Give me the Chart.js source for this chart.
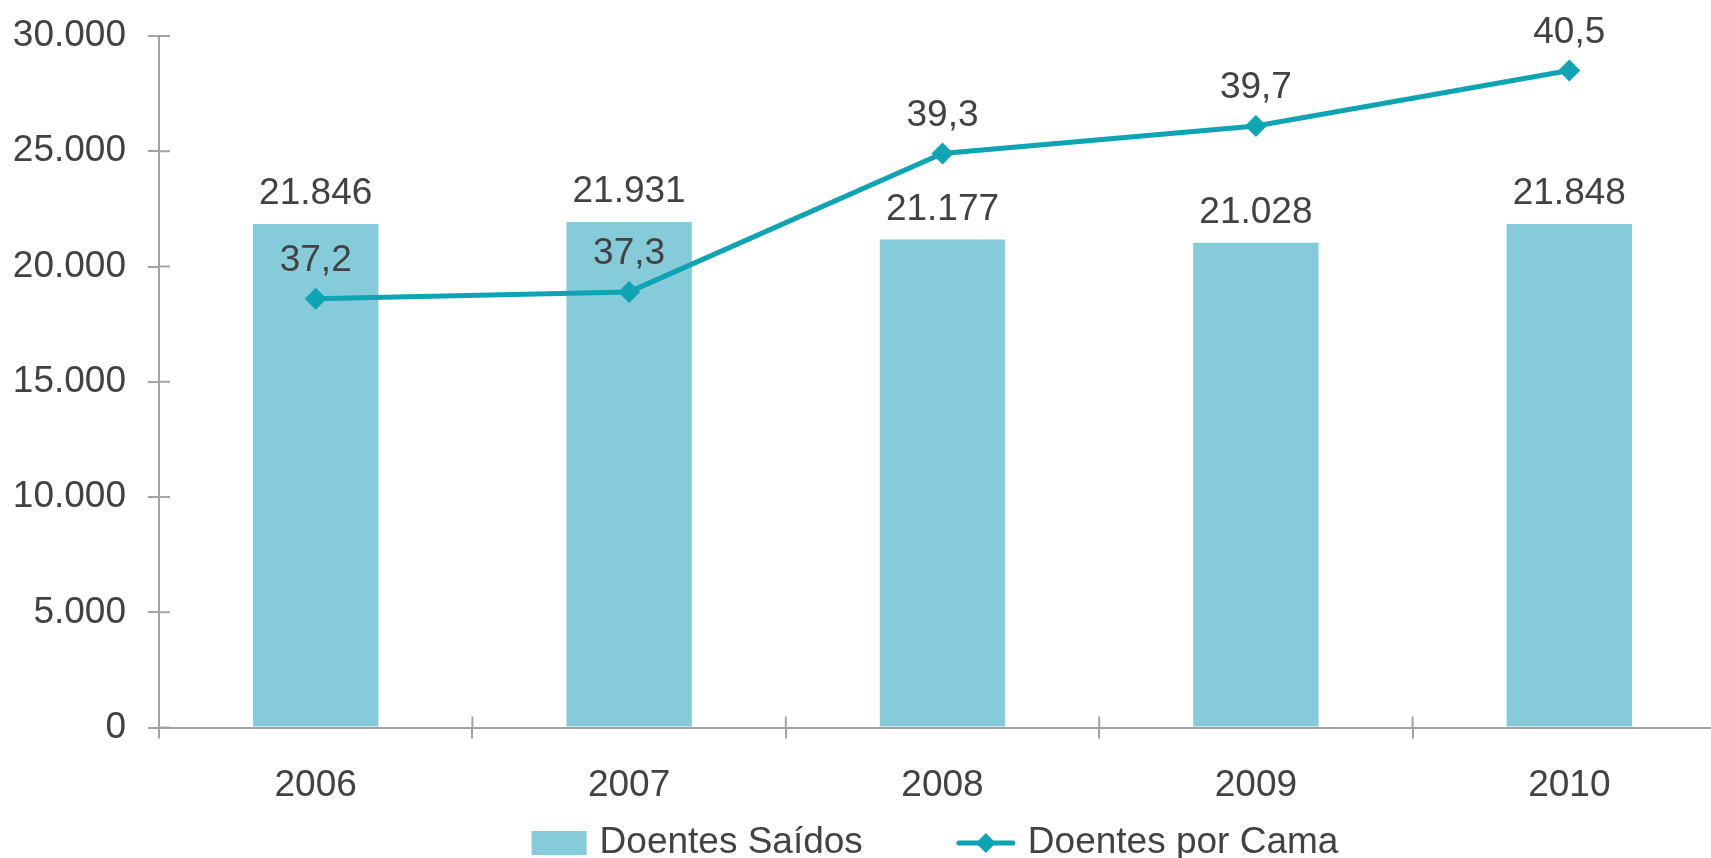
<!DOCTYPE html>
<html>
<head>
<meta charset="utf-8">
<title>Doentes Saídos / Doentes por Cama</title>
<script src="https://cdn.jsdelivr.net/npm/chart.js@4/dist/chart.umd.min.js"></script>
<style>
  html, body { margin: 0; padding: 0; background: #fff; overflow: hidden; }
  /* the plot runs past the right edge of the window, as in the original */
  #wrap { width: 1737px; height: 858px; position: relative; }
</style>
</head>
<body>
<div id="wrap"><canvas id="chart"></canvas></div>
<script>
const years = ['2006', '2007', '2008', '2009', '2010'];
const doentesSaidos = [21846, 21931, 21177, 21028, 21848];
const doentesPorCama = [37.2, 37.3, 39.3, 39.7, 40.5];
const yTicks = [0, 5000, 10000, 15000, 20000, 25000, 30000];

const textColor = '#424242';
const axisColor = '#a3a3a3';
const barColor = '#86cbd9';
const lineColor = '#0ea4b4';
const fontFamily = '"Liberation Sans", Arial, sans-serif';
const fontSize = 37;

// 21846 -> "21.846", 37.2 -> "37,2"
const fmtInt = (v) => String(Math.round(v)).replace(/\B(?=(\d{3})+(?!\d))/g, '.');
const fmtDec = (v) => v.toFixed(1).replace('.', ',');

// value labels above bars and points
const valueLabels = {
  id: 'valueLabels',
  afterDatasetsDraw(chart) {
    const ctx = chart.ctx;
    ctx.save();
    ctx.font = `${fontSize}px ${fontFamily}`;
    ctx.fillStyle = textColor;
    ctx.textAlign = 'center';
    ctx.textBaseline = 'middle';
    chart.getDatasetMeta(0).data.forEach((el, i) => {
      ctx.fillText(fmtInt(doentesSaidos[i]), el.x, el.y - 30);
    });
    chart.getDatasetMeta(1).data.forEach((el, i) => {
      ctx.fillText(fmtDec(doentesPorCama[i]), el.x, el.y - 38);
    });
    ctx.restore();
  }
};

// tick marks crossing the axes + legend at the bottom
const axisExtras = {
  id: 'axisExtras',
  afterDraw(chart) {
    const ctx = chart.ctx;
    const area = chart.chartArea;
    const x = chart.scales.x;
    const y = chart.scales.y;
    ctx.save();
    ctx.strokeStyle = axisColor;
    ctx.lineWidth = 2;
    ctx.beginPath();
    y.ticks.forEach((t) => {
      const py = y.getPixelForValue(t.value);
      ctx.moveTo(area.left, py);
      ctx.lineTo(area.left + 11, py);
    });
    for (let i = 0; i <= years.length; i++) {
      const px = x.getPixelForValue(i - 0.5);
      ctx.moveTo(px, area.bottom);
      ctx.lineTo(px, area.bottom - 11);
    }
    ctx.stroke();

    // legend, centred on the visible part of the plot
    ctx.font = `${fontSize}px ${fontFamily}`;
    const t1 = 'Doentes Saídos';
    const t2 = 'Doentes por Cama';
    const w1 = ctx.measureText(t1).width;
    const w2 = ctx.measureText(t2).width;
    const boxW = 55, lineW = 58, gapText = 13, gapItems = 94;
    const total = boxW + gapText + w1 + gapItems + lineW + gapText + w2;
    const visibleRight = Math.min(chart.width, window.innerWidth || 1711);
    let lx = (area.left + visibleRight) / 2 - total / 2;
    const ly = 843;
    ctx.fillStyle = barColor;
    ctx.fillRect(lx, ly - 12, boxW, 24);
    lx += boxW + gapText;
    ctx.fillStyle = textColor;
    ctx.textBaseline = 'middle';
    ctx.textAlign = 'left';
    ctx.fillText(t1, lx, ly);
    lx += w1 + gapItems;
    ctx.strokeStyle = lineColor;
    ctx.lineWidth = 5;
    ctx.lineCap = 'round';
    ctx.beginPath();
    ctx.moveTo(lx + 2, ly);
    ctx.lineTo(lx + lineW - 2, ly);
    ctx.stroke();
    ctx.fillStyle = lineColor;
    const cx = lx + lineW / 2;
    ctx.beginPath();
    ctx.moveTo(cx, ly - 10);
    ctx.lineTo(cx + 10, ly);
    ctx.lineTo(cx, ly + 10);
    ctx.lineTo(cx - 10, ly);
    ctx.closePath();
    ctx.fill();
    lx += lineW + gapText;
    ctx.fillStyle = textColor;
    ctx.fillText(t2, lx, ly);
    ctx.restore();
  }
};

new Chart(document.getElementById('chart'), {
  type: 'bar',
  data: {
    labels: years,
    datasets: [
      {
        label: 'Doentes Saídos',
        data: doentesSaidos,
        backgroundColor: barColor,
        yAxisID: 'y',
        categoryPercentage: 1,
        barPercentage: 0.40,
        order: 2
      },
      {
        type: 'line',
        label: 'Doentes por Cama',
        data: doentesPorCama,
        borderColor: lineColor,
        backgroundColor: lineColor,
        borderWidth: 5,
        pointStyle: 'rectRot',
        pointRadius: 11,
        pointBorderWidth: 0,
        fill: false,
        tension: 0,
        yAxisID: 'y1',
        order: 1
      }
    ]
  },
  options: {
    responsive: true,
    maintainAspectRatio: false,
    animation: false,
    devicePixelRatio: 1,
    layout: { padding: { top: 36, right: 0, bottom: 25, left: 0 } },
    plugins: {
      legend: { display: false },
      tooltip: { enabled: false }
    },
    scales: {
      x: {
        offset: true,
        grid: {
          offset: true,
          drawOnChartArea: false,
          color: axisColor,
          lineWidth: 2,
          tickLength: 11
        },
        border: { color: axisColor, width: 2 },
        ticks: {
          color: textColor,
          font: { family: fontFamily, size: fontSize },
          padding: 25
        }
      },
      y: {
        min: 0,
        max: 30000,
        afterBuildTicks(scale) {
          scale.ticks = yTicks.map((v) => ({ value: v }));
        },
        afterFit(scale) {
          scale.width = 159;
          scale.paddingTop = 0;
          scale.paddingBottom = 0;
        },
        grid: {
          drawOnChartArea: false,
          color: axisColor,
          lineWidth: 2,
          tickLength: 11
        },
        border: { color: axisColor, width: 2 },
        ticks: {
          color: textColor,
          font: { family: fontFamily, size: fontSize },
          padding: 22,
          callback: (v) => fmtInt(v)
        }
      },
      y1: {
        display: false,
        min: 31,
        max: 41
      }
    }
  },
  plugins: [valueLabels, axisExtras]
});
</script>
</body>
</html>
